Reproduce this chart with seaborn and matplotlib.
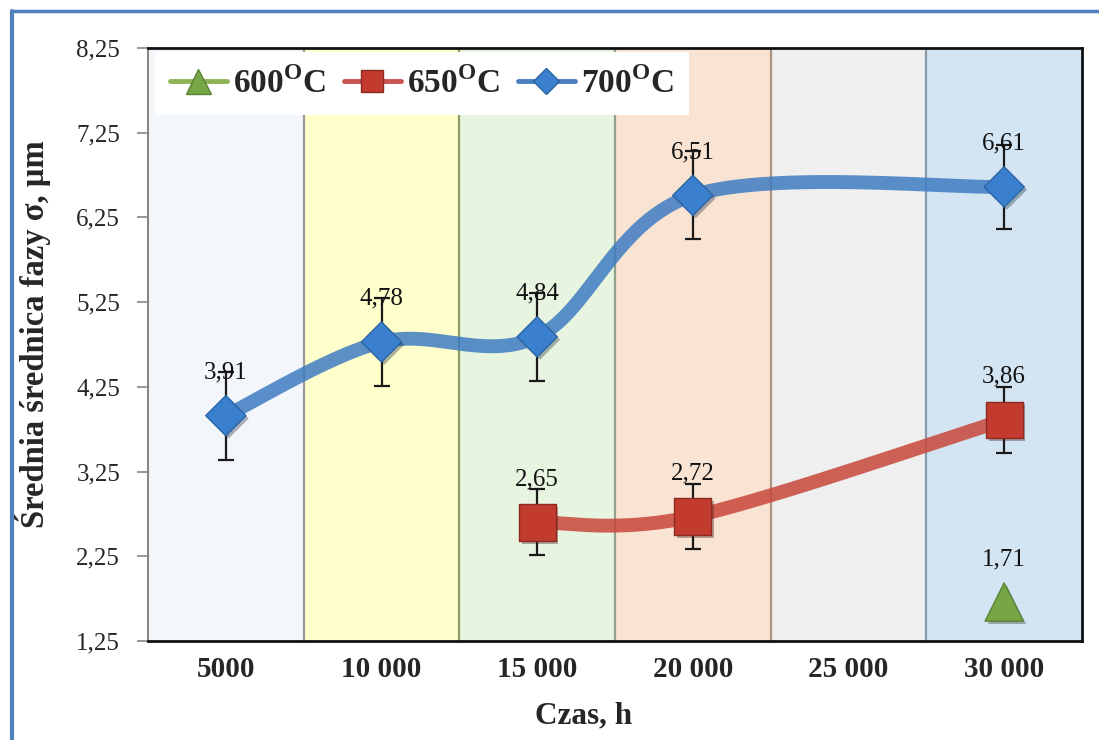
import numpy as np
import pandas as pd
import matplotlib
matplotlib.use("Agg")
import matplotlib.pyplot as plt
import seaborn as sns
from matplotlib.lines import Line2D
import matplotlib.patheffects as pe

# ---- data ----
time_ticks = [5000, 10000, 15000, 20000, 25000, 30000]
tick_labels = ["5000", "10 000", "15 000", "20 000", "25 000", "30 000"]
band_colors = ["#f3f6fb", "#ffffcc", "#e7f4df", "#f9e4d3", "#efefef", "#d3e5f3"]
sep_colors = ["#9a9a9a", "#8f9c60", "#8fa38a", "#b0917c", "#8798a8"]

t700 = [5000, 10000, 15000, 20000, 30000]
d700 = [3.91, 4.78, 4.84, 6.51, 6.61]
e700 = [0.52, 0.52, 0.52, 0.52, 0.50]

t650 = [15000, 20000, 30000]
d650 = [2.65, 2.72, 3.86]
e650 = [0.39, 0.38, 0.39]

t600 = [30000]
d600 = [1.71]

y_ticks = [1.25, 2.25, 3.25, 4.25, 5.25, 6.25, 7.25, 8.25]

SERIF = "Liberation Serif"

sns.set_theme(style="white")
plt.rcParams["font.family"] = [SERIF, "DejaVu Serif"]
plt.rcParams["mathtext.fontset"] = "custom"
plt.rcParams["mathtext.rm"] = "Liberation Serif:bold"
plt.rcParams["mathtext.bf"] = "Liberation Serif:bold"


def smooth_curve(x, y, n=80):
    """Piecewise cubic Bezier through the points (Catmull-Rom style tangents)."""
    pts = np.column_stack([x, y]).astype(float)
    ext = np.vstack([pts[0], pts, pts[-1]])
    out = []
    for i in range(len(pts) - 1):
        p0, p1, p2, p3 = ext[i], ext[i + 1], ext[i + 2], ext[i + 3]
        c1 = p1 + (p2 - p0) / 6.0
        c2 = p2 - (p3 - p1) / 6.0
        t = np.linspace(0, 1, n)[:, None]
        seg = (1 - t) ** 3 * p1 + 3 * (1 - t) ** 2 * t * c1 + 3 * (1 - t) * t ** 2 * c2 + t ** 3 * p2
        out.append(seg if i == 0 else seg[1:])
    s = np.vstack(out)
    return pd.DataFrame({"czas": s[:, 0], "d": s[:, 1]})


fig = plt.figure(figsize=(10.99, 7.40), dpi=100)
ax = fig.add_axes([148 / 1099, 1 - 641 / 740, (1082 - 148) / 1099, (641 - 48) / 740])

# coloured time bands
for t, c in zip(time_ticks, band_colors):
    ax.axvspan(t - 2500, t + 2500, color=c, zorder=0, lw=0)
for i, c in enumerate(sep_colors):
    ax.axvline(time_ticks[i] + 2500, color=c, lw=1.6, zorder=1)

blue_line = "#3f7cc2"
red_line = "#c8473a"
blue_mk = "#3a80cf"
red_mk = "#c23b2e"
green_mk = "#77a646"

shadow = [pe.SimplePatchShadow(offset=(2, -2), alpha=0.35), pe.Normal()]

# smoothed connecting lines
sns.lineplot(data=smooth_curve(t700, d700), x="czas", y="d", sort=False, estimator=None,
             color=blue_line, lw=10, alpha=0.85, ax=ax, zorder=2)
sns.lineplot(data=smooth_curve(t650, d650), x="czas", y="d", sort=False, estimator=None,
             color=red_line, lw=10, alpha=0.85, ax=ax, zorder=2)

# error bars
ax.errorbar(t700, d700, yerr=e700, fmt="none", ecolor="#1a1a1a", elinewidth=1.6,
            capsize=5.5, capthick=1.6, zorder=3)
ax.errorbar(t650, d650, yerr=e650, fmt="none", ecolor="#1a1a1a", elinewidth=1.6,
            capsize=5.5, capthick=1.6, zorder=3)

# markers
pts700 = pd.DataFrame({"czas": t700, "d": d700})
pts650 = pd.DataFrame({"czas": t650, "d": d650})
pts600 = pd.DataFrame({"czas": t600, "d": d600})
sns.scatterplot(data=pts700, x="czas", y="d", marker="D", s=420, color=blue_mk,
                edgecolor="#2d64a3", linewidth=1, ax=ax, zorder=4)
sns.scatterplot(data=pts650, x="czas", y="d", marker="s", s=700, color=red_mk,
                edgecolor="#8d2a22", linewidth=1, ax=ax, zorder=4)
sns.scatterplot(data=pts600, x="czas", y="d", marker="^", s=760, color=green_mk,
                edgecolor="#5a8233", linewidth=1, ax=ax, zorder=4)
for coll in ax.collections:
    coll.set_path_effects(shadow)

# value labels
for xs, ys in ((t700, d700), (t650, d650), (t600, d600)):
    for x, y in zip(xs, ys):
        ax.annotate(f"{y:.2f}".replace(".", ","), (x, y), xytext=(0, 31),
                    textcoords="offset points", ha="center", va="center",
                    fontsize=18, color="#111111", zorder=5)

ax.set_xlim(2500, 32500)
ax.set_ylim(1.25, 8.25)
ax.set_yticks(y_ticks)
ax.set_yticklabels([f"{v:.2f}".replace(".", ",") for v in y_ticks], fontsize=18)
ax.set_xticks(time_ticks)
ax.set_xticklabels(tick_labels, fontsize=21, fontweight="bold")
ax.tick_params(axis="y", length=8, width=1.2, color="#888888", pad=12, direction="out", left=True)
ax.tick_params(axis="x", length=0, pad=11)

ax.set_xlabel("Czas, h", fontsize=22.5, fontweight="bold", va="center")
ax.xaxis.set_label_coords((584 - 148) / 934, -(716 - 641) / 593)
ax.set_ylabel("Średnia średnica fazy σ, µm", fontsize=23.5, fontweight="bold", va="center")
ax.yaxis.set_label_coords(-(148 - 33) / 934, (641 - 334) / 593)

for side in ("top", "right", "bottom"):
    ax.spines[side].set_color("#111111")
    ax.spines[side].set_linewidth(2)
ax.spines["left"].set_color("#888888")
ax.spines["left"].set_linewidth(1.5)

# legend
handles = [
    Line2D([], [], color="#8cb356", lw=3.5, marker="^", markersize=18,
           markerfacecolor=green_mk, markeredgecolor="#5a8233"),
    Line2D([], [], color="#cc5450", lw=3.5, marker="s", markersize=16,
           markerfacecolor=red_mk, markeredgecolor="#8d2a22"),
    Line2D([], [], color="#4a7fc0", lw=3.5, marker="D", markersize=13,
           markerfacecolor=blue_mk, markeredgecolor="#2d64a3"),
]
labels = ["600$^{\\mathrm{O}}$C", "650$^{\\mathrm{O}}$C", "700$^{\\mathrm{O}}$C"]
leg = ax.legend(handles, labels, loc="upper left", bbox_to_anchor=(7 / 934, 1 - 4 / 593), ncol=3,
                frameon=True, fancybox=False, framealpha=1, edgecolor="none",
                facecolor="white", prop={"family": SERIF, "weight": "bold", "size": 24},
                handlelength=1.7, handletextpad=0.18, columnspacing=0.55,
                borderpad=0.45, borderaxespad=0)
leg.set_zorder(6)

# outer frame lines
fig.add_artist(Line2D([12 / 1099, 1], [1 - 11 / 740, 1 - 11 / 740], color="#4f81bd", lw=2.5,
                      transform=fig.transFigure))
fig.add_artist(Line2D([12 / 1099, 12 / 1099], [0, 1 - 11 / 740], color="#4f81bd", lw=3,
                      transform=fig.transFigure))

fig.savefig("out.png", dpi=100, facecolor="white")
